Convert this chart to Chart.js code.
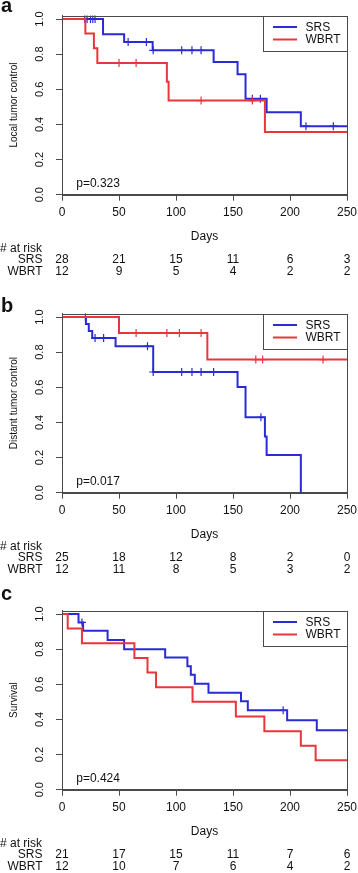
<!DOCTYPE html>
<html>
<head>
<meta charset="utf-8">
<script src="https://cdn.jsdelivr.net/npm/chart.js@4.4.1/dist/chart.umd.min.js"></script>
<style>
  body { margin: 0; background: #fff; width: 358px; height: 873px; overflow: hidden; position: relative; }
  .panel { position: absolute; left: 0; width: 358px; height: 290px; }
</style>
</head>
<body>
<div class="panel" style="top:-10px"><canvas id="chart-a" width="358" height="290"></canvas></div>
<div class="panel" style="top:287.7px"><canvas id="chart-b" width="358" height="290"></canvas></div>
<div class="panel" style="top:585.4px"><canvas id="chart-c" width="358" height="290"></canvas></div>
<script>
const dayTicks = [0, 50, 100, 150, 200, 250];
const survTicks = [0, 0.2, 0.4, 0.6, 0.8, 1.0];
const groupNames = ['SRS', 'WBRT'];

// a: local tumor control
const aSrsDays = [0, 36, 54.5, 79.5, 133, 154, 161, 179.5, 209.5, 250];
const aSrsSurv = [1, 0.913, 0.869, 0.822, 0.755, 0.685, 0.546, 0.469, 0.39, 0.39];
const aSrsCensor = [20, 22, 25, 27, 29, 58, 74, 80, 105, 114, 122, 167, 174, 214, 238];
const aWbrtDays = [0, 20.5, 28, 31, 92, 93.5, 178, 250];
const aWbrtSurv = [1, 0.917, 0.833, 0.75, 0.643, 0.536, 0.357, 0.357];
const aWbrtCensor = [50, 65, 122, 167];
const aRiskSrs = [28, 21, 15, 11, 6, 3];
const aRiskWbrt = [12, 9, 5, 4, 2, 2];

// b: distant tumor control
const bSrsDays = [0, 21, 23.5, 26.5, 47, 80, 154, 161, 178, 179.5, 209.5];
const bSrsSurv = [1, 0.96, 0.92, 0.88, 0.834, 0.687, 0.601, 0.429, 0.32, 0.214, 0];
const bSrsCensor = [20.5, 29, 36.5, 75, 80, 105, 114, 122, 133, 174.5];
const bWbrtDays = [0, 50, 127.5, 250];
const bWbrtSurv = [1, 0.909, 0.758, 0.758];
const bWbrtCensor = [65, 92, 103, 122, 170, 176, 229];
const bRiskSrs = [25, 18, 12, 8, 2, 0];
const bRiskWbrt = [12, 11, 8, 5, 3, 2];

// c: survival
const cSrsDays = [0, 14.5, 18.5, 40, 54.5, 90.5, 110, 113, 116.5, 128.5, 157, 163, 197.5, 223.5, 250];
const cSrsSurv = [1, 0.952, 0.905, 0.852, 0.80, 0.752, 0.703, 0.654, 0.603, 0.552, 0.503, 0.452, 0.395, 0.338, 0.338];
const cSrsCensor = [17.5, 194];
const cWbrtDays = [0, 5, 17.5, 63.5, 75, 82.5, 114.5, 152.5, 177.5, 209.5, 222.5, 250];
const cWbrtSurv = [1, 0.917, 0.833, 0.75, 0.667, 0.583, 0.5, 0.417, 0.333, 0.25, 0.167, 0.167];
const cWbrtCensor = [];
const cRiskSrs = [21, 17, 15, 11, 7, 6];
const cRiskWbrt = [12, 10, 7, 6, 4, 2];

const SRS_COLOR = '#2a2ad8';
const WBRT_COLOR = '#e8363a';
const FONT = "'Liberation Sans', Arial, sans-serif";

function valueAt(days, surv, t) {
    let v = surv[0];
    for (let i = 0; i < days.length; i++) {
        if (days[i] <= t) v = surv[i];
    }
    return v;
}

function curve(days, surv) {
    return days.map((d, i) => ({ x: d, y: surv[i] }));
}

function censorPoints(days, surv, censor) {
    return censor.map(t => ({ x: t, y: valueAt(days, surv, t) }));
}

// no extra room for end labels, the plot box is placed by layout padding
function noPad(s) {
    s.paddingLeft = 0;
    s.paddingRight = 0;
    s.paddingTop = 0;
    s.paddingBottom = 0;
}

const kmExtras = {
    id: 'kmExtras',
    afterDraw(chart, args, opts) {
        const ctx = chart.ctx;
        const { left, right, top, bottom } = chart.chartArea;
        const xs = chart.scales.x;
        const ys = chart.scales.y;
        ctx.save();

        // box
        ctx.strokeStyle = '#4a4a4a';
        ctx.lineWidth = 1;
        ctx.strokeRect(Math.round(left) + 0.5, Math.round(top) + 0.5, Math.round(right - left), Math.round(bottom - top));

        // legend
        const lw = 84, lh = 35;
        const lx = Math.round(right) - lw + 0.5, ly = Math.round(top) + 0.5;
        ctx.fillStyle = '#fff';
        ctx.fillRect(lx, ly, lw, lh);
        ctx.strokeRect(lx, ly, lw, lh);
        ctx.font = '12px ' + FONT;
        ctx.textBaseline = 'middle';
        ctx.textAlign = 'left';
        [[SRS_COLOR, groupNames[0], 10.5], [WBRT_COLOR, groupNames[1], 23]].forEach(([c, name, dy]) => {
            ctx.strokeStyle = c;
            ctx.lineWidth = 2;
            ctx.beginPath();
            ctx.moveTo(lx + 9.5, ly + dy);
            ctx.lineTo(lx + 33.5, ly + dy);
            ctx.stroke();
            ctx.fillStyle = '#111';
            ctx.fillText(name, lx + 42, ly + dy + 0.5);
        });

        // p value
        ctx.fillStyle = '#111';
        ctx.fillText(opts.pText, xs.getPixelForValue(12.5), ys.getPixelForValue(0.062));

        // panel letter
        ctx.font = 'bold 20px ' + FONT;
        ctx.textBaseline = 'alphabetic';
        ctx.fillText(opts.letter, 1, opts.letterY);

        // number at risk
        ctx.font = '12px ' + FONT;
        ctx.textBaseline = 'middle';
        ctx.fillText('# at risk', 0, 258.3);
        ctx.textAlign = 'right';
        ctx.fillText(groupNames[0], 42.5, 269.8);
        ctx.fillText(groupNames[1], 42.5, 281.2);
        ctx.textAlign = 'center';
        dayTicks.forEach((d, i) => {
            const px = xs.getPixelForValue(d);
            ctx.fillText(String(opts.riskSrs[i]), px, 269.8);
            ctx.fillText(String(opts.riskWbrt[i]), px, 281.2);
        });
        ctx.restore();
    }
};

function makePanel(id, o) {
    const datasets = [
        {
            label: 'WBRT', data: curve(o.wbrtDays, o.wbrtSurv), stepped: true,
            borderColor: WBRT_COLOR, borderWidth: 2, pointRadius: 0, fill: false, order: 1
        },
        {
            label: 'WBRT censored', data: censorPoints(o.wbrtDays, o.wbrtSurv, o.wbrtCensor), showLine: false,
            pointStyle: 'cross', pointRadius: 4, borderColor: WBRT_COLOR, borderWidth: 1.2, order: 1
        },
        {
            label: 'SRS', data: curve(o.srsDays, o.srsSurv), stepped: true,
            borderColor: SRS_COLOR, borderWidth: 2, pointRadius: 0, fill: false, order: 2
        },
        {
            label: 'SRS censored', data: censorPoints(o.srsDays, o.srsSurv, o.srsCensor), showLine: false,
            pointStyle: 'cross', pointRadius: 4, borderColor: SRS_COLOR, borderWidth: 1.2, order: 2
        }
    ];
    return new Chart(document.getElementById(id), {
        type: 'line',
        data: { datasets: datasets },
        plugins: [kmExtras],
        options: {
            responsive: false,
            animation: false,
            events: [],
            layout: { padding: { left: 0, right: 11, top: 25.5, bottom: 0 } },
            plugins: {
                legend: { display: false },
                tooltip: { enabled: false },
                kmExtras: o
            },
            scales: {
                x: {
                    type: 'linear', min: 0, max: 250,
                    afterBuildTicks: s => { s.ticks = dayTicks.map(v => ({ value: v })); },
                    afterFit: s => { s.height = 85.3; noPad(s); },
                    grid: { drawOnChartArea: false, drawTicks: true, tickLength: 6, color: '#4a4a4a' },
                    border: { display: true, color: '#4a4a4a', width: 1 },
                    ticks: { color: '#111', font: { family: FONT, size: 12 }, padding: 5, maxRotation: 0 },
                    title: { display: true, text: 'Days', color: '#111', font: { family: FONT, size: 12 }, padding: { top: 0, bottom: 36 } }
                },
                y: {
                    type: 'linear', min: 0, max: 1.02,
                    afterBuildTicks: s => { s.ticks = survTicks.map(v => ({ value: v })); },
                    afterFit: s => { s.width = 62; noPad(s); },
                    grid: { drawOnChartArea: false, drawTicks: true, tickLength: 6, color: '#4a4a4a' },
                    border: { display: true, color: '#4a4a4a', width: 1 },
                    ticks: {
                        color: '#111', font: { family: FONT, size: 11 }, padding: 8.5,
                        minRotation: 90, maxRotation: 90, crossAlign: 'center', autoSkip: false,
                        callback: v => Number(v).toFixed(1)
                    },
                    title: { display: true, text: o.yTitle, color: '#111', font: { family: FONT, size: 10 }, padding: { top: 8, bottom: 0 } }
                }
            }
        }
    });
}

makePanel('chart-a', {
    letter: 'a', letterY: 21.7, yTitle: 'Local tumor control', pText: 'p=0.323',
    srsDays: aSrsDays, srsSurv: aSrsSurv, srsCensor: aSrsCensor,
    wbrtDays: aWbrtDays, wbrtSurv: aWbrtSurv, wbrtCensor: aWbrtCensor,
    riskSrs: aRiskSrs, riskWbrt: aRiskWbrt
});
makePanel('chart-b', {
    letter: 'b', letterY: 24, yTitle: 'Distant tumor control', pText: 'p=0.017',
    srsDays: bSrsDays, srsSurv: bSrsSurv, srsCensor: bSrsCensor,
    wbrtDays: bWbrtDays, wbrtSurv: bWbrtSurv, wbrtCensor: bWbrtCensor,
    riskSrs: bRiskSrs, riskWbrt: bRiskWbrt
});
makePanel('chart-c', {
    letter: 'c', letterY: 14.6, yTitle: 'Survival', pText: 'p=0.424',
    srsDays: cSrsDays, srsSurv: cSrsSurv, srsCensor: cSrsCensor,
    wbrtDays: cWbrtDays, wbrtSurv: cWbrtSurv, wbrtCensor: cWbrtCensor,
    riskSrs: cRiskSrs, riskWbrt: cRiskWbrt
});
</script>
</body>
</html>
